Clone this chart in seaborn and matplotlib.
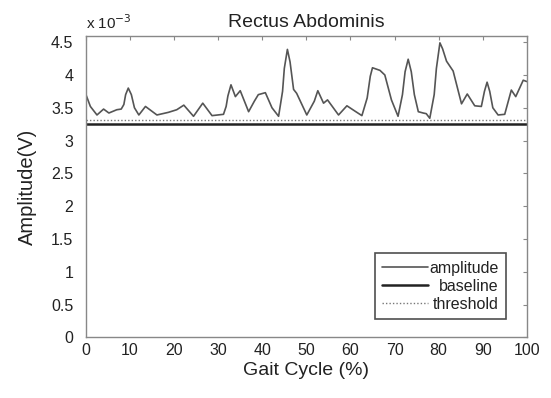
import numpy as np
import pandas as pd
import matplotlib
matplotlib.use("Agg")
import matplotlib.pyplot as plt
import seaborn as sns

# Gait cycle (%) and amplitude (x 1e-3 V)
gait_pct = [0, 1, 2.5, 4, 5.2, 7, 8, 8.6, 9.0, 9.6, 10.3, 11, 12, 13.5, 16.1, 18.7,
            20.6, 22.2, 24.4, 26.5, 28.6, 31.2, 31.8, 32.2, 32.9, 33.9, 35, 36.9,
            38.2, 39.1, 40.7, 42.2, 43.7, 44.6, 45.0, 45.7, 46.3, 47.1, 47.8, 50.1,
            51.8, 52.6, 53.9, 54.8, 57.3, 59.2, 61, 62.6, 63.8, 64.5, 65, 66.7,
            67.8, 69.3, 70.8, 71.8, 72.4, 73.1, 73.8, 74.5, 75.4, 76.5, 77.2, 78,
            79, 79.5, 80.3, 80.9, 81.8, 83.3, 85.2, 86.5, 88.2, 89.7, 90.4, 91,
            91.6, 92.3, 93.5, 95, 96.5, 97.5, 99.2, 100]
amplitude = [3.70, 3.52, 3.39, 3.48, 3.42, 3.47, 3.48, 3.55, 3.70, 3.80, 3.70, 3.50,
             3.39, 3.52, 3.39, 3.43, 3.47, 3.54, 3.37, 3.57, 3.38, 3.40, 3.52, 3.68,
             3.85, 3.67, 3.76, 3.44, 3.60, 3.70, 3.73, 3.50, 3.37, 3.75, 4.10, 4.39,
             4.20, 3.78, 3.72, 3.39, 3.60, 3.76, 3.57, 3.62, 3.39, 3.53, 3.45, 3.38,
             3.65, 3.98, 4.11, 4.07, 4.00, 3.62, 3.37, 3.70, 4.05, 4.24, 4.05, 3.70,
             3.44, 3.42, 3.41, 3.34, 3.70, 4.10, 4.49, 4.40, 4.21, 4.06, 3.56, 3.71,
             3.53, 3.52, 3.75, 3.89, 3.75, 3.50, 3.39, 3.40, 3.77, 3.67, 3.92, 3.90]
baseline_level = 3.25
threshold_level = 3.32
x_ticks = [0, 10, 20, 30, 40, 50, 60, 70, 80, 90, 100]
y_ticks = [0, 0.5, 1, 1.5, 2, 2.5, 3, 3.5, 4, 4.5]
y_tick_labels = ["0", "0.5", "1", "1.5", "2", "2.5", "3", "3.5", "4", "4.5"]

sns.set_theme(style="white")
plt.rcParams['font.family'] = ['Liberation Sans', 'DejaVu Sans']

fig = plt.figure(figsize=(5.51, 3.98), dpi=100)
ax = fig.add_axes([0.156, 0.1525, 0.8, 0.758])

df = pd.DataFrame({"x": gait_pct, "y": amplitude})
sns.lineplot(data=df, x="x", y="y", ax=ax, color="#555555", linewidth=1.2,
             label="amplitude", legend=False)
ax.axhline(baseline_level, color="#222222", linewidth=1.8, label="baseline")
ax.axhline(threshold_level, color="#777777", linewidth=1.0, linestyle=(0, (1, 1.5)),
           label="threshold")

ax.set_xlim(0, 100)
ax.set_ylim(0, 4.6)
ax.set_xticks(x_ticks)
ax.set_xticklabels([str(t) for t in x_ticks])
ax.set_yticks(y_ticks)
ax.set_yticklabels(y_tick_labels)
ax.tick_params(direction="in", length=3, width=0.8, color="#888888",
               top=True, right=True, labelsize=11.5, labelcolor="#222222")
ax.tick_params(axis="y", pad=9)
ax.tick_params(axis="x", pad=4)
for s in ax.spines.values():
    s.set_color("#888888")
    s.set_linewidth(1.0)

ax.set_xlabel("Gait Cycle (%)", fontsize=14, color="#222222", labelpad=3)
ax.set_ylabel("Amplitude(V)", fontsize=14.5, color="#222222", labelpad=10)
ax.set_title("Rectus Abdominis", fontsize=14, color="#222222", pad=6)
ax.text(0.0, 1.012, r"x 10$^{-3}$", transform=ax.transAxes, fontsize=11,
        color="#222222", ha="left", va="bottom")

handles, labels = ax.get_legend_handles_labels()
leg = ax.legend(handles, labels, loc="lower right", bbox_to_anchor=(0.952, 0.06),
                borderaxespad=0.0,
                frameon=True, fancybox=False, fontsize=11.5, handlelength=2.9,
                handletextpad=0.05, borderpad=0.45, labelspacing=0.2,
                markerfirst=True)
leg.get_frame().set_edgecolor("#222222")
leg.get_frame().set_linewidth(1.2)
for t in leg.get_texts():
    t.set_color("#222222")

# right-align the legend labels while keeping the handles aligned on the left
fig.canvas.draw()
renderer = fig.canvas.get_renderer()
widths = [t.get_window_extent(renderer).width for t in leg.get_texts()]
maxw = max(widths)
base_sep = 0.05 * 11.5
for col in leg._legend_handle_box.get_children():
    for row in col.get_children():
        txt = row.get_children()[1]._text
        w = txt.get_window_extent(renderer).width
        row.sep = base_sep + (maxw - w) * 72.0 / fig.dpi

fig.savefig("out.png", dpi=100)
